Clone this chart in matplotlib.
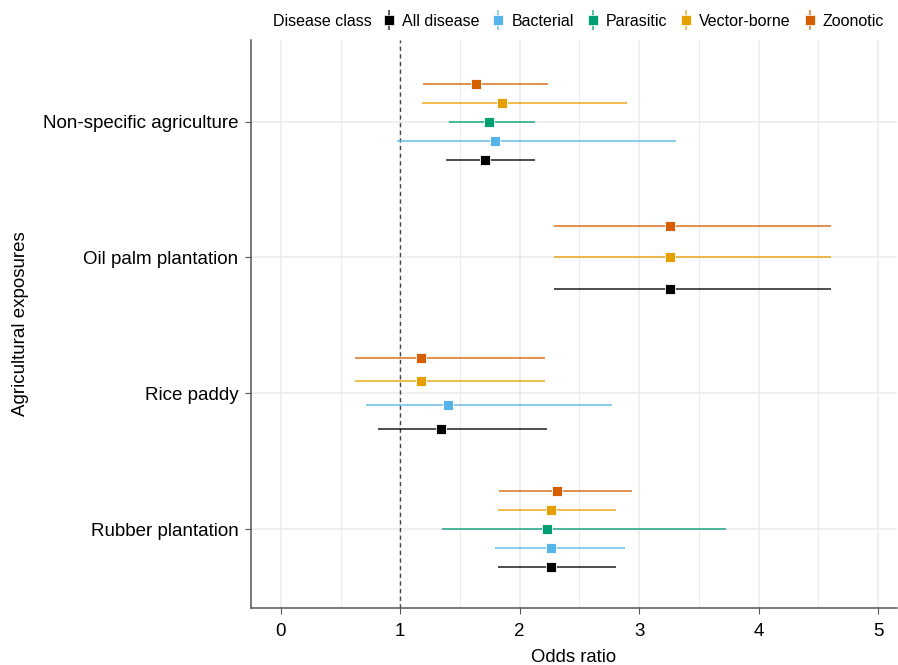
import matplotlib
matplotlib.use("Agg")
import matplotlib.pyplot as plt
import numpy as np
from matplotlib.lines import Line2D
from matplotlib.legend_handler import HandlerTuple

plt.rcParams['font.family'] = ['Liberation Sans', 'DejaVu Sans']

# exposures, listed from bottom to top of the chart
exposures = ["Rubber plantation", "Rice paddy", "Oil palm plantation", "Non-specific agriculture"]
classes = ["All disease", "Bacterial", "Parasitic", "Vector-borne", "Zoonotic"]
colors = ["#000000", "#56B4E9", "#009E73", "#E69F00", "#D55E00"]

nan = np.nan
# odds ratio and 95% CI, one row per class, columns follow `exposures`
all_or = [2.26, 1.34, 3.26, 1.71]
all_lo = [1.82, 0.81, 2.29, 1.38]
all_hi = [2.81, 2.23, 4.61, 2.13]

bact_or = [2.26, 1.40, nan, 1.79]
bact_lo = [1.79, 0.71, nan, 0.97]
bact_hi = [2.88, 2.77, nan, 3.31]

para_or = [2.23, nan, nan, 1.74]
para_lo = [1.35, nan, nan, 1.41]
para_hi = [3.73, nan, nan, 2.13]

vect_or = [2.26, 1.17, 3.26, 1.85]
vect_lo = [1.82, 0.625, 2.29, 1.18]
vect_hi = [2.81, 2.21, 4.61, 2.90]

zoo_or = [2.31, 1.17, 3.26, 1.63]
zoo_lo = [1.83, 0.625, 2.29, 1.19]
zoo_hi = [2.94, 2.21, 4.61, 2.24]

ors = np.array([all_or, bact_or, para_or, vect_or, zoo_or])
los = np.array([all_lo, bact_lo, para_lo, vect_lo, zoo_lo])
his = np.array([all_hi, bact_hi, para_hi, vect_hi, zoo_hi])

fig = plt.figure(figsize=(8.98, 6.65), dpi=100)
ax = fig.add_axes([0.2795, 0.0857, 0.7195, 0.854])

dodge = 0.7
for j, exp in enumerate(exposures):
    present = [k for k in range(len(classes)) if not np.isnan(ors[k, j])]
    n = len(present)
    step = dodge / n
    for i, k in enumerate(present):
        y = (j + 1) + (i - (n - 1) / 2) * step
        ax.plot([los[k, j], his[k, j]], [y, y], color=colors[k], lw=1.3, alpha=0.75,
                solid_capstyle='butt', zorder=3)
        ax.plot(ors[k, j], y, marker='s', ms=7.5, color=colors[k], mec='white', mew=0.6, zorder=4)

ax.axvline(1, color='#444444', lw=1, ls=(0, (3, 2.5)), zorder=2)

ax.set_xlim(-0.25, 5.16)
ax.set_ylim(0.42, 4.6)
ax.set_xticks(range(6))
ax.set_xticks(np.arange(0.5, 5.5, 1), minor=True)
ax.set_yticks(range(1, 5))
ax.set_yticklabels(exposures)
ax.grid(True, which='major', color='#EBEBEB', lw=1.1, zorder=0)
ax.grid(True, which='minor', axis='x', color='#EBEBEB', lw=0.8, zorder=0)
ax.set_axisbelow(True)

for s in ['top', 'right']:
    ax.spines[s].set_visible(False)
for s in ['left', 'bottom']:
    ax.spines[s].set_color('#555555')
    ax.spines[s].set_linewidth(1.1)
ax.tick_params(which='major', length=4, color='#555555', labelsize=13.5, labelcolor='black')
ax.tick_params(axis='x', pad=7)
ax.tick_params(axis='y', pad=5)
ax.tick_params(which='minor', length=0)

ax.set_xlabel("Odds ratio", fontsize=13.3, labelpad=6)
ax.set_ylabel("Agricultural exposures", fontsize=13.5, labelpad=10)

handles = []
for c in colors:
    vline = Line2D([], [], marker='|', ms=15, mew=1.2, color=c, alpha=0.75, ls='none')
    sq = Line2D([], [], marker='s', ms=7, color=c, mec='white', mew=0.5, ls='none')
    handles.append((vline, sq))
leg = fig.legend(handles, classes, loc='center left', bbox_to_anchor=(0.427, 0.968), ncol=5,
                 frameon=False, fontsize=11.5, handlelength=0.7, handletextpad=0.45,
                 columnspacing=0.85, borderpad=0, borderaxespad=0,
                 handler_map={tuple: HandlerTuple(ndivide=1)})
fig.text(0.304, 0.968, "Disease class", fontsize=11.5, va='center', ha='left')

fig.savefig("out.png", dpi=100)
